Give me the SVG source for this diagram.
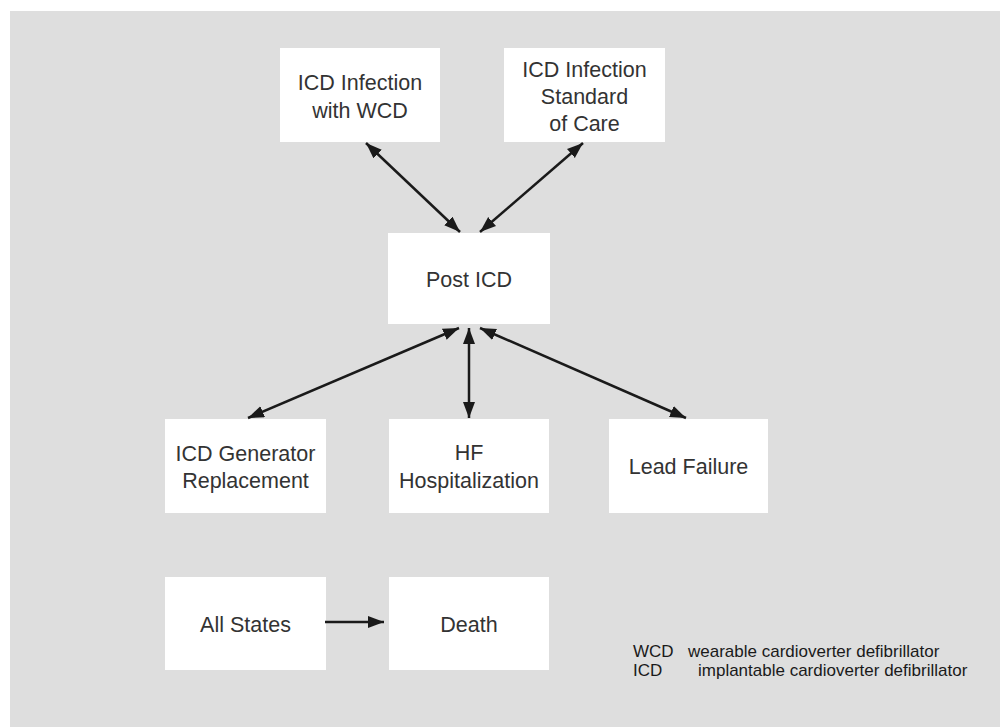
<svg xmlns="http://www.w3.org/2000/svg" width="1000" height="727" viewBox="0 0 1000 727">
<defs>
<marker id="ah" markerUnits="userSpaceOnUse" markerWidth="17" markerHeight="13" refX="16" refY="6" orient="auto-start-reverse">
<path d="M0,0 L16,6 L0,12 z" fill="#1a1a1a"/>
</marker>
<style>
.box{fill:#ffffff}
.t{font-family:"Liberation Sans",Arial,sans-serif;font-size:21.5px;fill:#333333;text-anchor:middle}
.lg{font-family:"Liberation Sans",Arial,sans-serif;font-size:17px;fill:#1a1a1a}
.c{stroke:#1a1a1a;stroke-width:2.5;fill:none}
</style>
</defs>
<rect x="0" y="0" width="1000" height="727" fill="#ffffff"/>
<rect x="10" y="11" width="990" height="716" fill="#dedede"/>

<g id="n-infection-wcd">
<rect class="box" x="280" y="48" width="160" height="94"/>
<text class="t" x="360" y="90">ICD Infection</text>
<text class="t" x="360" y="118">with WCD</text>
</g>
<g id="n-infection-soc">
<rect class="box" x="504" y="48" width="161" height="94"/>
<text class="t" x="584.5" y="77">ICD Infection</text>
<text class="t" x="584.5" y="104">Standard</text>
<text class="t" x="584.5" y="131">of Care</text>
</g>
<g id="n-post-icd">
<rect class="box" x="388" y="233" width="162" height="91"/>
<text class="t" x="469" y="287">Post ICD</text>
</g>
<g id="n-generator">
<rect class="box" x="165" y="419" width="161" height="94"/>
<text class="t" x="245.5" y="461">ICD Generator</text>
<text class="t" x="245.5" y="488">Replacement</text>
</g>
<g id="n-hf">
<rect class="box" x="389" y="419" width="160" height="94"/>
<text class="t" x="469" y="460">HF</text>
<text class="t" x="469" y="488">Hospitalization</text>
</g>
<g id="n-lead">
<rect class="box" x="609" y="419" width="159" height="94"/>
<text class="t" x="688.5" y="474">Lead Failure</text>
</g>
<g id="n-all">
<rect class="box" x="165" y="577" width="161" height="93"/>
<text class="t" x="245.5" y="632">All States</text>
</g>
<g id="n-death">
<rect class="box" x="389" y="577" width="160" height="93"/>
<text class="t" x="469" y="632">Death</text>
</g>

<g id="connectors">
<line class="c" x1="366" y1="143" x2="460" y2="232" marker-start="url(#ah)" marker-end="url(#ah)"/>
<line class="c" x1="583" y1="143" x2="480" y2="232" marker-start="url(#ah)" marker-end="url(#ah)"/>
<line class="c" x1="459" y1="328" x2="248" y2="418" marker-start="url(#ah)" marker-end="url(#ah)"/>
<line class="c" x1="469" y1="328" x2="469" y2="418" marker-start="url(#ah)" marker-end="url(#ah)"/>
<line class="c" x1="480" y1="328" x2="686" y2="418" marker-start="url(#ah)" marker-end="url(#ah)"/>
<line class="c" x1="325" y1="622" x2="384" y2="622" marker-end="url(#ah)"/>
</g>

<g id="legend">
<text class="lg" x="633" y="657">WCD</text>
<text class="lg" x="688" y="657">wearable cardioverter defibrillator</text>
<text class="lg" x="633" y="676">ICD</text>
<text class="lg" x="698" y="676">implantable cardioverter defibrillator</text>
</g>
</svg>
